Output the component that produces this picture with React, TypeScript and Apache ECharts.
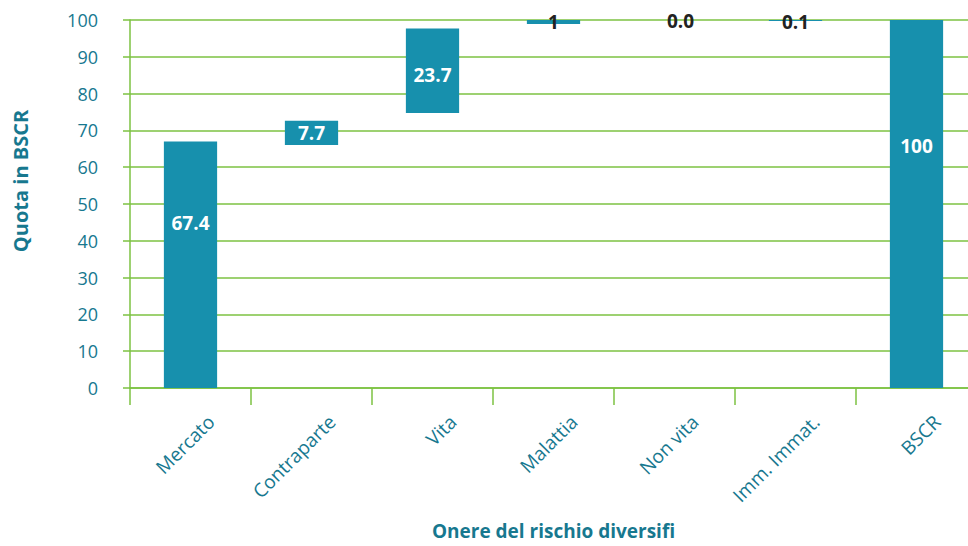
import React, { useEffect, useRef } from "react";
import * as echarts from "echarts";

const categories = ["Mercato", "Contraparte", "Vita", "Malattia", "Non vita", "Imm. Immat.", "BSCR"];
// invisible offset under each bar
const baseValues = [0, 66.0, 74.7, 98.9, 100, 99.7, 0];
// visible bar heights
const barValues = [67.0, 6.6, 23.0, 1.1, 0, 0.3, 100];
// printed labels
const labelTexts = ["67.4", "7.7", "23.7", "1", "0.0", "0.1", "100"];
const yTicks = { min: 0, max: 100, interval: 10 };

const TEAL = "#1790ad";
const TEXT = "#17788f";
const GREEN = "#7cc242";
const FONT = "'Open Sans', 'Noto Sans', sans-serif";

const labelStyles = [
  { color: "#ffffff", offset: [0, -42] },
  { color: "#ffffff", offset: [0, 0] },
  { color: "#ffffff", offset: [0, 4] },
  { color: "#222222", offset: [0, 0] },
  { color: "#222222", offset: [6, 1] },
  { color: "#222222", offset: [0, 1] },
  { color: "#ffffff", offset: [0, -58] },
];

export default function App() {
  const ref = useRef<HTMLDivElement>(null);
  useEffect(() => {
    if (!ref.current) return;
    const chart = echarts.init(ref.current, undefined, { renderer: "svg" });
    chart.setOption({
      animation: false,
      grid: {
        left: 130,
        right: -9,
        top: 20,
        bottom: 158,
        containLabel: false,
        outerBoundsMode: "none",
      },
      xAxis: {
        type: "category",
        data: categories,
        name: "Onere del rischio diversifi",
        nameLocation: "middle",
        nameGap: 134,
        nameTextStyle: {
          color: TEXT,
          fontSize: 19,
          lineHeight: 18,
          fontWeight: "bold",
          fontFamily: FONT,
        },
        axisLine: { show: true, lineStyle: { color: GREEN, width: 1.5 } },
        axisTick: { show: true, length: 17, interval: 0, lineStyle: { color: GREEN, width: 1.5 } },
        axisLabel: {
          interval: 0,
          rotate: 45,
          margin: 51,
          padding: [0, -29, 0, 0],
          color: TEXT,
          fontSize: 19,
          fontFamily: FONT,
        },
        splitLine: { show: false },
      },
      yAxis: {
        type: "value",
        min: yTicks.min,
        max: yTicks.max,
        interval: yTicks.interval,
        name: "Quota in BSCR",
        nameLocation: "middle",
        nameGap: 100,
        nameTextStyle: {
          color: TEXT,
          fontSize: 20,
          fontWeight: "bold",
          fontFamily: FONT,
          padding: [0, 0, 0, 46],
        },
        axisLine: { show: true, lineStyle: { color: GREEN, width: 1.5 } },
        axisTick: { show: true, length: 7, lineStyle: { color: GREEN, width: 1.5 } },
        axisLabel: { margin: 32, color: TEXT, fontSize: 18, fontFamily: FONT },
        splitLine: { show: true, lineStyle: { color: GREEN, width: 1.5 } },
      },
      series: [
        {
          type: "bar",
          stack: "total",
          data: baseValues,
          itemStyle: { color: "transparent" },
          emphasis: { disabled: true },
          barWidth: "44%",
          silent: true,
        },
        {
          type: "bar",
          stack: "total",
          barWidth: "44%",
          itemStyle: { color: TEAL },
          data: barValues.map((v, i) => ({
            value: v,
            label: {
              show: true,
              position: "inside",
              formatter: () => labelTexts[i],
              color: labelStyles[i].color,
              offset: labelStyles[i].offset,
              fontSize: 19,
              fontWeight: "bold",
              fontFamily: FONT,
            },
          })),
        },
      ],
    });
    return () => chart.dispose();
  }, []);
  return (
    <div
      style={{
        position: "fixed",
        left: 0,
        top: 0,
        width: 968,
        height: 546,
        overflow: "hidden",
        background: "#fff",
      }}
    >
      <div ref={ref} style={{ width: 968, height: 546, overflow: "hidden" }} />
    </div>
  );
}
